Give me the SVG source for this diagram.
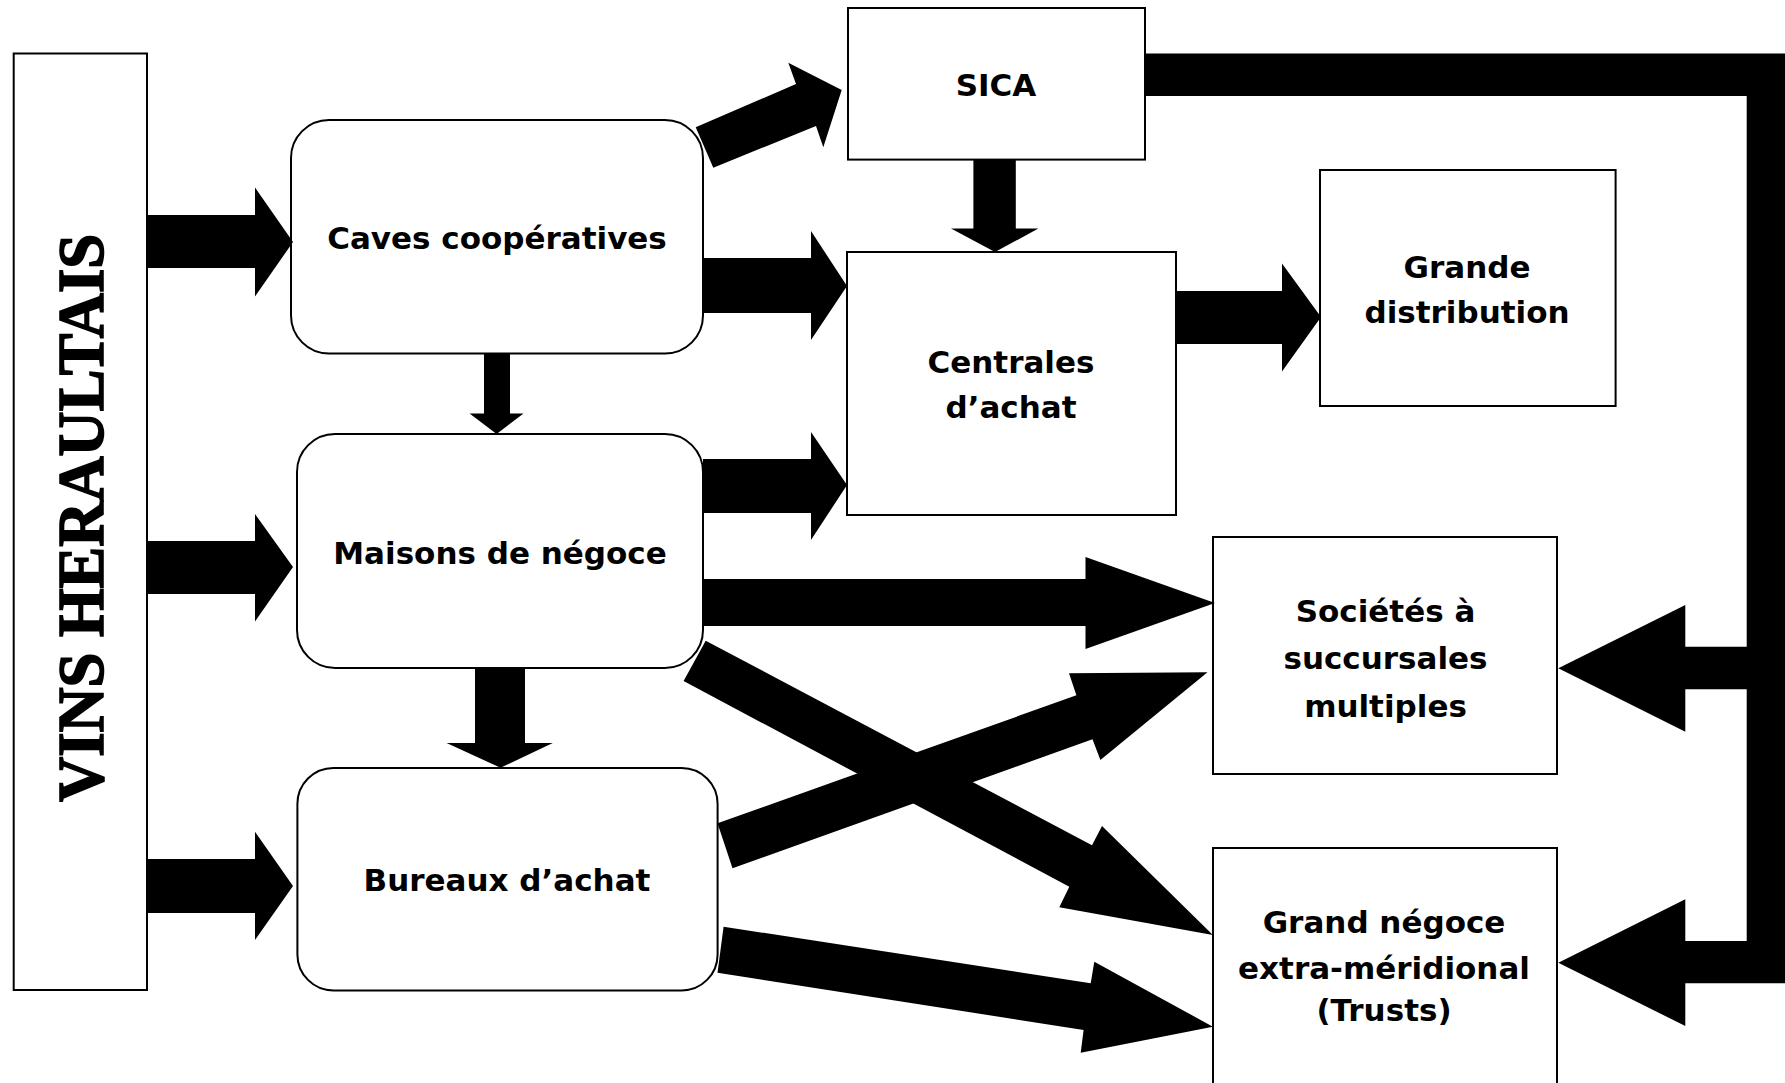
<svg xmlns="http://www.w3.org/2000/svg" width="1785" height="1083" viewBox="0 0 1785 1083">
<style>
.box{fill:#fff;stroke:#000;stroke-width:2}
.lbl{font-family:"DejaVu Sans","Liberation Sans",sans-serif;font-weight:bold;font-size:31px;fill:#000;text-anchor:middle}
.title{font-family:"Liberation Serif","Times New Roman",serif;font-weight:700;font-size:66px;fill:#000;stroke:#000;stroke-width:1.6px;text-anchor:middle}
.arr{fill:#000;stroke:none}
</style>
<rect width="1785" height="1083" fill="#fff"/>
<g id="vins">
<rect class="box" x="13.7" y="53.5" width="133.3" height="936.5"/>
<text class="title" transform="translate(103,518) rotate(-90)" textLength="568" lengthAdjust="spacingAndGlyphs">VINS HERAULTAIS</text>
</g>
<g id="caves">
<rect class="box" x="291" y="120" width="412" height="233.5" rx="38" ry="38"/>
<text class="lbl" x="497" y="249">Caves coopératives</text>
</g>
<g id="maisons">
<rect class="box" x="297" y="434" width="406" height="234" rx="38" ry="38"/>
<text class="lbl" x="500" y="564">Maisons de négoce</text>
</g>
<g id="bureaux">
<rect class="box" x="297.4" y="768" width="420.2" height="222.4" rx="36" ry="36"/>
<text class="lbl" x="507" y="891">Bureaux d’achat</text>
</g>
<g id="sica">
<rect class="box" x="848" y="8" width="297" height="151.6"/>
<text class="lbl" x="996" y="96">SICA</text>
</g>
<g id="centrales">
<rect class="box" x="847" y="252" width="329" height="263"/>
<text class="lbl" x="1011" y="373">Centrales</text>
<text class="lbl" x="1011" y="418">d’achat</text>
</g>
<g id="grande-distribution">
<rect class="box" x="1320" y="170" width="295.6" height="236"/>
<text class="lbl" x="1467" y="278">Grande</text>
<text class="lbl" x="1467" y="323">distribution</text>
</g>
<g id="societes">
<rect class="box" x="1213" y="537" width="344" height="237"/>
<text class="lbl" x="1385.5" y="622">Sociétés à</text>
<text class="lbl" x="1385.5" y="669">succursales</text>
<text class="lbl" x="1385.5" y="717">multiples</text>
</g>
<g id="grand-negoce">
<rect class="box" x="1213" y="848" width="344" height="250"/>
<text class="lbl" x="1384" y="933">Grand négoce</text>
<text class="lbl" x="1384" y="979">extra-méridional</text>
<text class="lbl" x="1384" y="1021">(Trusts)</text>
</g>
<g id="connectors">
<polygon class="arr" points="147,215 255,215 255,187.5 293,242 255,296.4 255,268 147,268"/>
<polygon class="arr" points="147,541 255,541 255,514 293,567 255,621.6 255,594 147,594"/>
<polygon class="arr" points="147,859 255,859 255,831.7 293,886 255,940 255,913 147,913"/>
<polygon class="arr" points="484,353.6 510,353.6 510,413.6 523.5,413.6 496.6,434 469.6,413.6 484,413.6"/>
<polygon class="arr" points="475,668 525,668 525,743 552.8,743 500.6,767.8 446.6,743 475,743"/>
<polygon class="arr" points="713.3,167.7 695.7,127.3 796,84 788.3,62.7 841.7,90 823.3,147.3 816,126"/>
<polygon class="arr" points="703,258 811,258 811,231 847,286 811,340 811,313 703,313"/>
<polygon class="arr" points="703,459 811,459 811,432 847,485 811,540 811,513 703,513"/>
<polygon class="arr" points="973.4,159.6 1015.8,159.6 1015.8,228.6 1038.4,228.6 995,252 951,228.6 973.4,228.6"/>
<polygon class="arr" points="1176,291 1282,291 1282,263.6 1321,317 1282,371.4 1282,344 1176,344"/>
<polygon class="arr" points="703,579 1085.5,579 1085.5,557 1215,603 1085.5,649 1085.5,626 703,626"/>
<polygon class="arr" points="705.7,640.7 1092,845.3 1102,826 1212.9,935 1059.3,907.3 1069.3,886.7 683.6,681"/>
<polygon class="arr" points="717.5,823.3 1076.4,695.3 1069,673.3 1207.5,672.3 1100.4,760 1092.5,739.3 732.5,868.3"/>
<polygon class="arr" points="723.6,926.7 1090.7,983.3 1094.3,961.7 1212.9,1026.7 1080.7,1052.7 1083.6,1030 717.5,972.7"/>
<polygon class="arr" points="1145,53.5 1790,53.5 1790,983.3 1685.3,983.3 1685.3,1026 1558.3,962.7 1685.3,899.3 1685.3,941 1746.7,941 1746.7,689.3 1685.3,689.3 1685.3,731.7 1558.3,668.3 1685.3,605 1685.3,646.7 1746.7,646.7 1746.7,96 1145,96"/>
</g>
</svg>
